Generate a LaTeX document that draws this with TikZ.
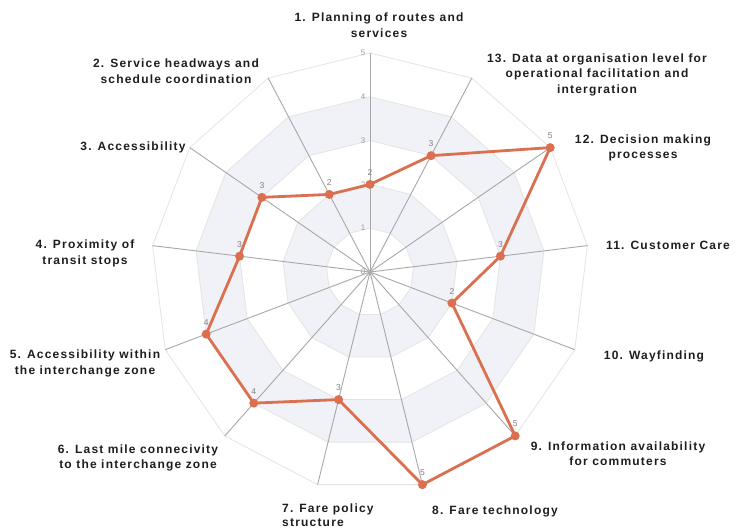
\documentclass[tikz,border=0pt]{standalone}
\usepackage{fontspec}
\setmainfont{Liberation Sans}
\newfontfamily\lblfont[LetterSpace=10]{Liberation Sans}
\definecolor{dataline}{RGB}{218,112,80}
\definecolor{axisgray}{RGB}{168,168,168}
\definecolor{gridgray}{RGB}{228,228,228}
\definecolor{bandfill}{RGB}{240,242,247}
\definecolor{lbltext}{RGB}{30,30,30}
\definecolor{valgray}{RGB}{130,130,130}
\tikzset{
  axisline/.style={draw=axisgray, line width=0.9pt},
  gridline/.style={draw=gridgray, line width=0.8pt},
  dataedge/.style={draw=dataline, line width=2.8pt, line join=round},
  datadot/.style={circle, fill=dataline, inner sep=0pt, minimum size=9pt},
  vallbl/.style={font=\fontsize{8.5}{9}\selectfont, text=valgray, inner sep=0pt},
  ticklbl/.style={font=\fontsize{8}{9}\selectfont, text=valgray!80, inner sep=0pt},
  catlbl/.style={font=\lblfont\bfseries\fontsize{12}{15.5}\selectfont, text=lbltext, align=center, inner sep=0pt}
}
\begin{document}
\begin{tikzpicture}[x=1pt,y=1pt]
\useasboundingbox (-370,-259) rectangle (365,272);
\fill[white] (-370,-259) rectangle (365,272);
\def\U{43.8}
\coordinate (O) at (0,0);
% bands
\fill[bandfill, even odd rule]
  (90:2*\U) \foreach \k in {1,...,12}{ -- ({90+\k*360/13}:2*\U)} -- cycle
  (90:1*\U) \foreach \k in {1,...,12}{ -- ({90+\k*360/13}:1*\U)} -- cycle;
\fill[bandfill, even odd rule]
  (90:4*\U) \foreach \k in {1,...,12}{ -- ({90+\k*360/13}:4*\U)} -- cycle
  (90:3*\U) \foreach \k in {1,...,12}{ -- ({90+\k*360/13}:3*\U)} -- cycle;
% grid rings
\foreach \r in {1,...,5}{
  \draw[gridline] (90:\r*\U) \foreach \k in {1,...,12}{ -- ({90+\k*360/13}:\r*\U)} -- cycle;
}
% axes
\foreach \k in {1,...,13}{
  \coordinate (a\k) at ({90+(\k-1)*360/13}:5*\U);
  \draw[axisline] (O) -- (a\k);
}
% tick labels
\foreach \r in {0,...,5}{
  \node[ticklbl] (t\r) at (-7,\r*\U) {\r};
}
% data points
\foreach \k/\v in {1/2,2/2,3/3,4/3,5/4,6/4,7/3,8/5,9/5,10/2,11/3,12/5,13/3}{
  \coordinate (p\k) at ({90+(\k-1)*360/13}:\v*\U);
}
\draw[dataedge] (p1) -- (p2) -- (p3) -- (p4) -- (p5) -- (p6) -- (p7) -- (p8) -- (p9) -- (p10) -- (p11) -- (p12) -- (p13) -- cycle;
\foreach \k/\v in {1/2,2/2,3/3,4/3,5/4,6/4,7/3,8/5,9/5,10/2,11/3,12/5,13/3}{
  \node[datadot] (d\k) at (p\k) {};
  \node[vallbl] (v\k) at ([yshift=12pt]p\k) {\v};
}
% category labels
\node[catlbl] (c1) at (9,247) {1. Planning of routes and\\services};
\node[catlbl] (c2) at (-194,201) {2. Service headways and\\schedule coordination};
\node[catlbl] (c3) at (-237,125) {3. Accessibility};
\node[catlbl] (c4) at (-285,18.5) {4. Proximity of\\transit stops};
\node[catlbl] (c5) at (-285,-91.5) {5. Accessibility within\\the interchange zone};
\node[catlbl] (c6) at (-232,-186) {6. Last mile connecivity\\to the interchange zone};
\node[catlbl, align=left, anchor=west, font=\lblfont\bfseries\fontsize{12}{14}\selectfont] (c7) at (-88,-243) {7. Fare policy\\structure};
\node[catlbl] (c8) at (125,-239) {8. Fare technology};
\node[catlbl] (c9) at (248,-181.5) {9. Information availability\\for commuters};
\node[catlbl] (c10) at (284,-84) {10. Wayfinding};
\node[catlbl] (c11) at (298,27) {11. Customer Care};
\node[catlbl] (c12) at (273,124) {12. Decision making\\processes};
\node[catlbl] (c13) at (227,197.5) {13. Data at organisation level for\\operational facilitation and\\intergration};
\end{tikzpicture}
\end{document}
